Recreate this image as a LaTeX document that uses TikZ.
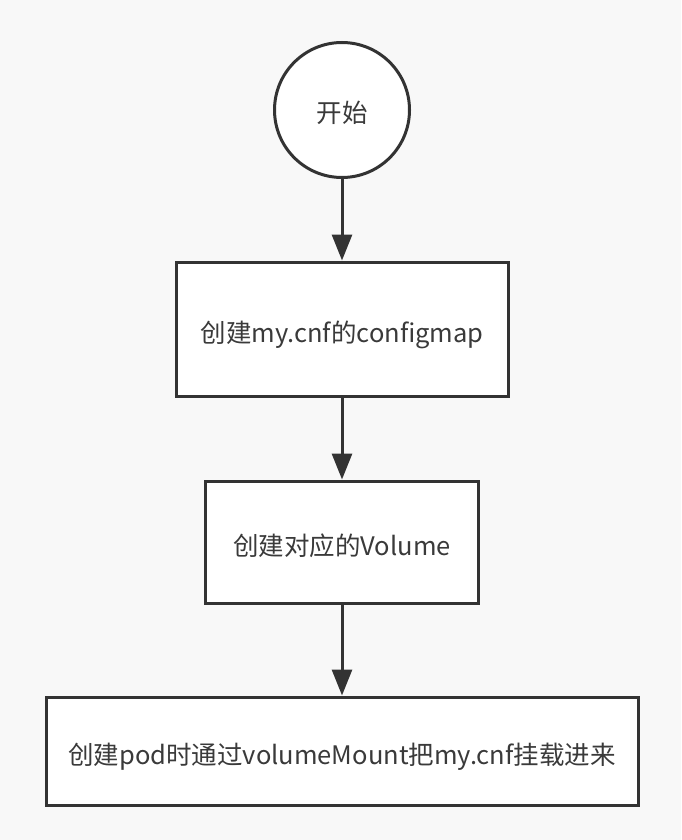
\documentclass[tikz,border=0pt]{standalone}
\usepackage{fontspec}
\setmainfont{Noto Sans CJK SC}
\usetikzlibrary{arrows.meta}
\definecolor{bg}{HTML}{F8F8F8}
\definecolor{ln}{HTML}{333333}
\definecolor{tx}{HTML}{3A3A3A}
\begin{document}
\begin{tikzpicture}[x=1pt,y=-1pt,
  box/.style={draw=ln, line width=3pt, fill=white, inner sep=0pt, text=tx,
    text height=26pt, text depth=0pt,
    font=\fontsize{25.5}{29}\selectfont},
  conn/.style={draw=ln, line width=3pt, -{Triangle[length=26pt,width=20pt]}}]
\fill[bg] (0,0) rectangle (681,840);
\useasboundingbox (0,0) rectangle (681,840);
\node[box, circle, minimum size=135pt] (start) at (342,110) {开始};
\node[box, minimum width=332pt, minimum height=134pt] (b1) at (342,329) {创建my.cnf的configmap};
\node[box, minimum width=273pt, minimum height=122pt] (b2) at (342,542) {创建对应的Volume};
\node[box, minimum width=592pt, minimum height=108pt] (b3) at (342,751) {创建pod时通过volumeMount把my.cnf挂载进来};
\draw[conn] (start) -- (b1);
\draw[conn] (b1) -- (b2);
\draw[conn] (b2) -- (b3);
\end{tikzpicture}
\end{document}
